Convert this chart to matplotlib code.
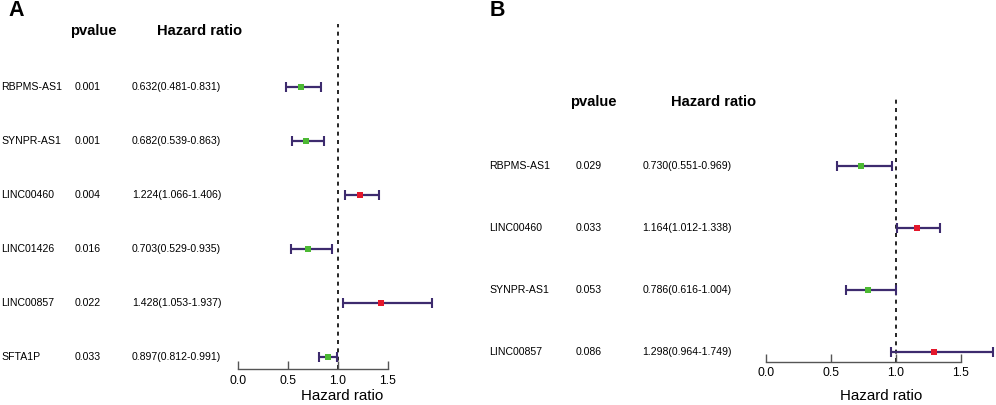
import matplotlib
matplotlib.use("Agg")
import matplotlib.pyplot as plt
from matplotlib.transforms import blended_transform_factory

plt.rcParams['font.family'] = ['Liberation Sans', 'DejaVu Sans']

# Panel A data
a_genes = ['RBPMS-AS1', 'SYNPR-AS1', 'LINC00460', 'LINC01426', 'LINC00857', 'SFTA1P']
a_pvalue = ['0.001', '0.001', '0.004', '0.016', '0.022', '0.033']
a_hr = [0.632, 0.682, 1.224, 0.703, 1.428, 0.897]
a_low = [0.481, 0.539, 1.066, 0.529, 1.053, 0.812]
a_high = [0.831, 0.863, 1.406, 0.935, 1.937, 0.991]

# Panel B data
b_genes = ['RBPMS-AS1', 'LINC00460', 'SYNPR-AS1', 'LINC00857']
b_pvalue = ['0.029', '0.033', '0.053', '0.086']
b_hr = [0.730, 1.164, 0.786, 1.298]
b_low = [0.551, 1.012, 0.616, 0.964]
b_high = [0.969, 1.338, 1.004, 1.749]

xticks = [0.0, 0.5, 1.0, 1.5]

W, H = 996, 405
fig = plt.figure(figsize=(W / 100, H / 100), dpi=100)

GREEN = '#4cb933'
RED = '#e4172b'
BAR = '#3d2b6e'
TXT = 7.6


def forest(genes, pvals, hr, low, high, box, x0, unit, row0, step,
           axis_y, dash_top, cols, head_y, label, label_xy, xlab_xy):
    left, right, top, bottom = box
    ax = fig.add_axes([left / W, 1 - bottom / H, (right - left) / W, (bottom - top) / H])
    ax.set_xlim((left - x0) / unit, (right - x0) / unit)
    ax.set_ylim((bottom - row0) / step, (top - row0) / step)
    ax.patch.set_visible(False)

    rows = list(range(len(genes)))
    err = [[h - l for h, l in zip(hr, low)], [u - h for h, u in zip(hr, high)]]
    ax.errorbar(hr, rows, xerr=err, fmt='none', ecolor=BAR, elinewidth=1.6,
                capsize=3.5, capthick=1.5, clip_on=False, zorder=2)
    for i, v in enumerate(hr):
        ax.plot(v, i, 's', color=GREEN if v < 1 else RED, ms=5.0, mew=0,
                zorder=3, clip_on=False)

    # reference line at HR = 1
    ymin = (bottom - axis_y) / (bottom - top)
    ymax = (bottom - dash_top) / (bottom - top)
    ax.axvline(1.0, ymin=ymin, ymax=ymax, color='black', lw=1.2,
               dashes=(2.4, 2.6), zorder=1)

    for s in ['top', 'right', 'left']:
        ax.spines[s].set_visible(False)
    ax.spines['bottom'].set_position(('data', (axis_y - row0) / step))
    ax.spines['bottom'].set_bounds(0, 1.5)
    ax.spines['bottom'].set_color('#555555')
    ax.spines['bottom'].set_linewidth(1.0)
    ax.set_yticks([])
    ax.set_xticks(xticks)
    ax.set_xticklabels([f'{t:.1f}' for t in xticks], fontsize=8.7)
    ax.tick_params(axis='x', direction='in', length=6, width=1.0,
                   color='#555555', pad=4)

    tr = blended_transform_factory(fig.transFigure, ax.transData)
    gx, px, hx = cols
    for i in rows:
        ax.text(gx / W, i, genes[i], transform=tr, fontsize=TXT, va='center', ha='left')
        ax.text(px / W, i, pvals[i], transform=tr, fontsize=TXT, va='center', ha='left')
        ax.text(hx / W, i, f'{hr[i]:.3f}({low[i]:.3f}-{high[i]:.3f})', transform=tr,
                fontsize=TXT, va='center', ha='left')

    (ph, hh) = head_y[1]
    fig.text(ph / W, 1 - head_y[0] / H, 'pvalue', fontsize=10.6, fontweight='bold',
             ha='center', va='center')
    fig.text(hh / W, 1 - head_y[0] / H, 'Hazard ratio', fontsize=10.6, fontweight='bold',
             ha='center', va='center')
    fig.text(label_xy[0] / W, 1 - label_xy[1] / H, label, fontsize=15.5,
             fontweight='bold', ha='center', va='center')
    fig.text(xlab_xy[0] / W, 1 - xlab_xy[1] / H, 'Hazard ratio', fontsize=10.9,
             ha='center', va='center')
    return ax


forest(a_genes, a_pvalue, a_hr, a_low, a_high,
       box=(218, 498, 20, 372), x0=238, unit=100, row0=87, step=54,
       axis_y=369, dash_top=24, cols=(1, 75, 132),
       head_y=(31, (93.5, 200)), label='A', label_xy=(16, 11),
       xlab_xy=(342, 396))

forest(b_genes, b_pvalue, b_hr, b_low, b_high,
       box=(740, 996, 90, 370), x0=765.7, unit=130, row0=165.7, step=62,
       axis_y=361.7, dash_top=97, cols=(489, 576, 642.7),
       head_y=(102, (593, 714)), label='B', label_xy=(497, 11),
       xlab_xy=(881, 396))

fig.savefig('out.png', dpi=100)
plt.close(fig)
